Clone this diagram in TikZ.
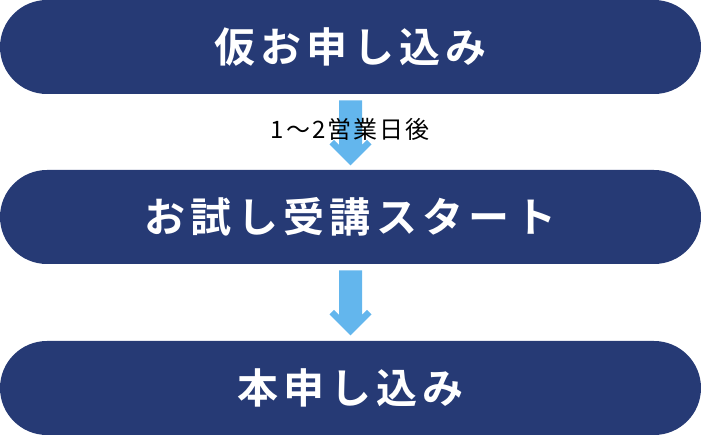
\documentclass[tikz,border=0pt]{standalone}
\usepackage{fontspec}
\usetikzlibrary{calc}
\newfontfamily\titlefont{Noto Sans CJK JP Bold}[LetterSpace=13]
\newfontfamily\notefont{Noto Sans CJK JP}[LetterSpace=8]
\definecolor{boxnavy}{RGB}{38,58,117}
\definecolor{arrowblue}{RGB}{99,182,237}
\tikzset{
  stepbox/.style={fill=boxnavy, rounded corners=35.25pt, minimum width=525.75pt,
    minimum height=70.5pt, inner sep=0pt, text=white,
    font=\titlefont\fontsize{30.75pt}{36pt}\selectfont},
  flowarrow/.style={fill=arrowblue},
  waitnote/.style={inner sep=0pt, text=black, font=\notefont\fontsize{18pt}{22pt}\selectfont}
}
\begin{document}
\begin{tikzpicture}[x=0.75pt,y=0.75pt]
\useasboundingbox (0,0) rectangle (701,435);
\node[stepbox] (apply) at (350.5,388) {仮お申し込み};
\node[stepbox] (trial) at (350.5,218) {お試し受講スタート};
\node[stepbox] (entry) at (350.5,47) {本申し込み};
%
\fill[flowarrow, shift={($(apply.south)+(0,-6)$)}] (-11.5,0)--(11.5,0)--(11.5,-44.5)--(16.5,-39.5)--(21,-44)--(0,-65)--(-21,-44)--(-16.5,-39.5)--(-11.5,-44.5)--cycle;
\fill[flowarrow, shift={($(trial.south)+(0,-6)$)}] (-11.5,0)--(11.5,0)--(11.5,-44.5)--(16.5,-39.5)--(21,-44)--(0,-65)--(-21,-44)--(-16.5,-39.5)--(-11.5,-44.5)--cycle;
%
\node[waitnote] (wait) at (350,306) {1〜2営業日後};
\end{tikzpicture}
\end{document}
